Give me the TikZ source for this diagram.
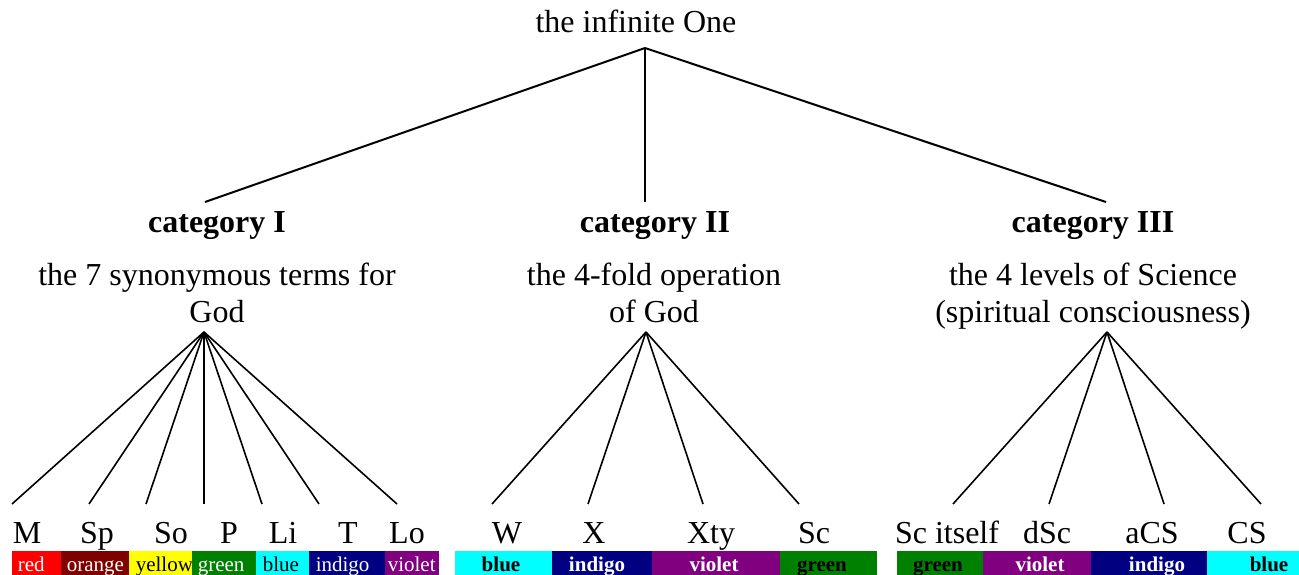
\documentclass[tikz,border=0pt]{standalone}
\usepackage{fontspec}
\setmainfont{Liberation Serif}
\usetikzlibrary{positioning}
\definecolor{cred}{HTML}{FF0000}
\definecolor{corange}{HTML}{800000}
\definecolor{cyellow}{HTML}{FFFF00}
\definecolor{cgreen}{HTML}{008000}
\definecolor{cblue}{HTML}{00FFFF}
\definecolor{cindigo}{HTML}{000080}
\definecolor{cviolet}{HTML}{800080}

\begin{document}
\begin{tikzpicture}[x=1pt, y=-1pt, line width=1.6pt]
\tikzstyle{every node}=[font=\fontsize{32}{37}\selectfont, inner sep=0pt, anchor=base]
\tikzstyle{desc}=[align=center]
\tikzstyle{bartext}=[font=\fontsize{21}{24}\selectfont]
\tikzstyle{bartextb}=[font=\fontsize{21}{24}\selectfont\bfseries]
\useasboundingbox (0,0) rectangle (1299,575);

\node (one)   at (636,33)  {the infinite One};
\node (catI)  at (217,233) {\bfseries category I};
\node (catII) at (655,233) {\bfseries category II};
\node (catIII)at (1093,233){\bfseries category III};
% base of a two-line node is its last line
\node[desc] (terms) at (217,322)  {the 7 synonymous terms for\\God};
\node[desc] (oper)  at (654,322)  {the 4-fold operation\\of God};
\node[desc] (levels)at (1093,322) {the 4 levels of Science\\(spiritual consciousness)};

% connector ends
\coordinate (root) at (645,48);
\coordinate (c1) at (205,202);
\coordinate (c2) at (645,202);
\coordinate (c3) at (1106,202);
\coordinate (g1) at (204,332);
\coordinate (g2) at (646,332);
\coordinate (g3) at (1107,332);

\path[line width=2pt]
(root) edge (c1)
       edge (c2)
       edge (c3);

% leaves
\foreach \name/\lx/\ex in {M/27/12, Sp/97/89, So/171/146, P/229/204, Li/283/262, T/348/319, Lo/407/397}{
  \node (\name) at (\lx,543) {\name};
  \coordinate (\name-top) at (\ex,504);
  \draw (g1) -- (\name-top);
}
\foreach \name/\lx/\ex in {W/507/492, X/594/588, Xty/711/703, Sc/814/799}{
  \node (\name) at (\lx,543) {\name};
  \coordinate (\name-top) at (\ex,504);
  \draw (g2) -- (\name-top);
}
\foreach \name/\txt/\lx/\ex in {Sci/Sc itself/947/953, dSc/dSc/1047/1049, aCS/aCS/1152/1164, CS/CS/1247/1261}{
  \node (\name) at (\lx,543) {\txt};
  \coordinate (\name-top) at (\ex,504);
  \draw (g3) -- (\name-top);
}

% colour bars
\foreach \xa/\xb/\col/\tcol/\tx/\word in {12/61/cred/white/17/red, 61/129/corange/white/66/orange,
    129/192/cyellow/black/135/yellow, 192/256/cgreen/white/197/green, 256/309/cblue/black/262/blue,
    309/385/cindigo/white/315/indigo, 385/439/cviolet/white/387/violet}{
  \fill[\col] (\xa,551) rectangle (\xb,575);
  \node[bartext, text=\tcol, anchor=base west] (bar-\word) at (\tx,571) {\word};
}
\foreach \xa/\xb/\col/\tcol/\tx/\word/\n in {455/552/cblue/black/501/blue/a, 552/652/cindigo/white/597/indigo/a,
    652/780/cviolet/white/714/violet/a, 780/877/cgreen/black/822/green/a,
    897/983/cgreen/black/938/green/b, 983/1091/cviolet/white/1040/violet/b,
    1091/1207/cindigo/white/1157/indigo/b, 1207/1299/cblue/black/1269/blue/b}{
  \fill[\col] (\xa,551) rectangle (\xb,575);
  \node[bartextb, text=\tcol] (bar-\word-\n) at (\tx,571) {\word};
}
\end{tikzpicture}
\end{document}
